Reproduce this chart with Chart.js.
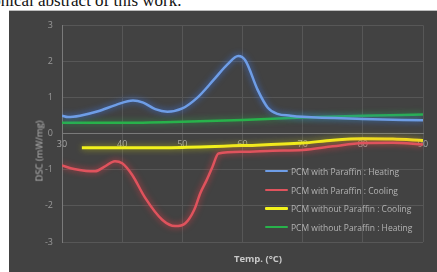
<!DOCTYPE html>
<html>
<head>
<meta charset="utf-8">
<script src="https://cdn.jsdelivr.net/npm/chart.js@4"></script>
<style>
  html, body { margin: 0; padding: 0; background: #fff; width: 437px; height: 272px; overflow: hidden; position: relative; }
  .caption { position: absolute; top: -9px; font-family: "Liberation Serif", "DejaVu Serif", serif; font-size: 17px; line-height: 19px; color: #111; white-space: nowrap; }
  #panel { position: absolute; left: 9px; top: 10px; width: 428px; height: 262px; background: #424242; border-top: 1px solid #bdbdbd; box-sizing: border-box; }
  #chart { position: absolute; left: 0; top: 0; }
  .ytitle { position: absolute; left: 30px; top: 140px; transform: translate(-50%, -50%) rotate(-90deg); font-family: "Open Sans", sans-serif; font-size: 9.5px; color: #b8b8b8; white-space: nowrap; }
  .xtitle { position: absolute; left: 249px; top: 241px; transform: translateX(-50%); font-family: "Open Sans", sans-serif; font-weight: bold; font-size: 9.5px; color: #c8c8c8; white-space: nowrap; }
  .legend { position: absolute; left: 256px; top: 151px; font-family: "Open Sans", sans-serif; font-size: 8.5px; color: #b4b4b4; }
  .legend div { height: 18.7px; display: flex; align-items: center; white-space: nowrap; }
  .legend span.sw { display: inline-block; width: 23px; margin-right: 3px; border-radius: 1px; }
</style>
</head>
<body>
<div class="caption" style="right: 399px;">graphical&nbsp;</div>
<div class="caption" style="left: 38px;">abstract of this work.</div>
<div id="panel">
  <canvas id="chart" width="428" height="262"></canvas>
  <div class="ytitle">DSC (mW/mg)</div>
  <div class="xtitle">Temp. (°C)</div>
  <div class="legend" id="legend"></div>
</div>
<script>
// Chart data
const heatWithTemps = [30, 31, 33, 36, 39, 41.8, 43.5, 45.5, 47.5, 50, 52.5, 55.2, 57.5, 59.3, 60.5, 62.5, 64.2, 65.8, 68, 70, 80, 90];
const heatWithValues = [0.5, 0.46, 0.5, 0.62, 0.8, 0.92, 0.86, 0.68, 0.61, 0.7, 1.0, 1.49, 1.92, 2.15, 2.02, 1.22, 0.72, 0.55, 0.5, 0.47, 0.41, 0.37];

const coolWithTemps = [30, 32, 34, 35.5, 37, 38.8, 40, 41.7, 43.8, 46.7, 48.8, 50.5, 52, 53, 54, 55, 56, 60, 65, 70, 75, 80, 85, 90];
const coolWithValues = [-0.88, -0.98, -1.03, -1.04, -0.92, -0.76, -0.82, -1.15, -1.77, -2.39, -2.56, -2.48, -2.1, -1.64, -1.3, -0.92, -0.55, -0.5, -0.47, -0.45, -0.35, -0.26, -0.25, -0.3];

const coolWithoutTemps = [33.3, 40, 50, 60, 70, 75, 80, 85, 90];
const coolWithoutValues = [-0.39, -0.39, -0.38, -0.33, -0.26, -0.18, -0.14, -0.15, -0.19];

const heatWithoutTemps = [30, 40, 50, 60, 70, 80, 90];
const heatWithoutValues = [0.3, 0.3, 0.33, 0.38, 0.45, 0.5, 0.53];

const seriesLabels = [
  'PCM with Paraffin : Heating',
  'PCM with Paraffin : Cooling',
  'PCM without Paraffin : Cooling',
  'PCM without Paraffin : Heating'
];
const seriesColors = ['#6e9de6', '#df535d', '#f2f21c', '#28b24b'];
const glowColors = ['rgba(60,120,235,0.9)', 'rgba(225,60,70,0.9)', 'rgba(230,230,0,0.6)', 'rgba(40,200,80,0.6)'];

function toPoints(xs, ys) {
  return xs.map((x, i) => ({ x: x, y: ys[i] }));
}

const seriesData = [
  toPoints(heatWithTemps, heatWithValues),
  toPoints(coolWithTemps, coolWithValues),
  toPoints(coolWithoutTemps, coolWithoutValues),
  toPoints(heatWithoutTemps, heatWithoutValues)
];

// soft glow round each line
const glowPlugin = {
  id: 'glow',
  beforeDatasetDraw(chart, args) {
    const ctx = chart.ctx;
    ctx.save();
    ctx.shadowColor = glowColors[args.index];
    ctx.shadowBlur = 6;
  },
  afterDatasetDraw(chart) {
    chart.ctx.restore();
  }
};

const ctx = document.getElementById('chart').getContext('2d');
const chart = new Chart(ctx, {
  type: 'line',
  data: {
    datasets: seriesData.map((pts, i) => ({
      label: seriesLabels[i],
      data: pts,
      borderColor: seriesColors[i],
      borderWidth: i === 2 ? 3 : 2.5,
      pointRadius: 0,
      fill: false,
      cubicInterpolationMode: 'monotone'
    }))
  },
  options: {
    responsive: false,
    animation: false,
    layout: { padding: { left: 0, top: 6.5, right: 14, bottom: 31 } },
    plugins: { legend: { display: false }, tooltip: { enabled: false } },
    scales: {
      x: {
        type: 'linear',
        min: 30,
        max: 90,
        position: { y: 0 },
        grid: { color: '#575757', drawTicks: false },
        border: { color: '#7a7a7a' },
        ticks: {
          stepSize: 10,
          padding: 5,
          color: '#a8a8a8',
          font: { family: 'Open Sans', size: 9 }
        }
      },
      y: {
        min: -3,
        max: 3,
        grid: { color: '#575757', drawTicks: false },
        border: { color: '#7a7a7a' },
        afterFit(scale) { scale.width = 53; },
        ticks: {
          stepSize: 1,
          padding: 9,
          color: '#999999',
          font: { family: 'Open Sans', size: 9 }
        }
      }
    }
  },
  plugins: [glowPlugin]
});

// legend inside the plot
const legendBox = document.getElementById('legend');
seriesLabels.forEach((label, i) => {
  const row = document.createElement('div');
  row.innerHTML = `<span class="sw" style="height:${i === 2 ? 3 : 2}px;background:${seriesColors[i]}"></span>${label}`;
  legendBox.appendChild(row);
});
</script>
</body>
</html>
